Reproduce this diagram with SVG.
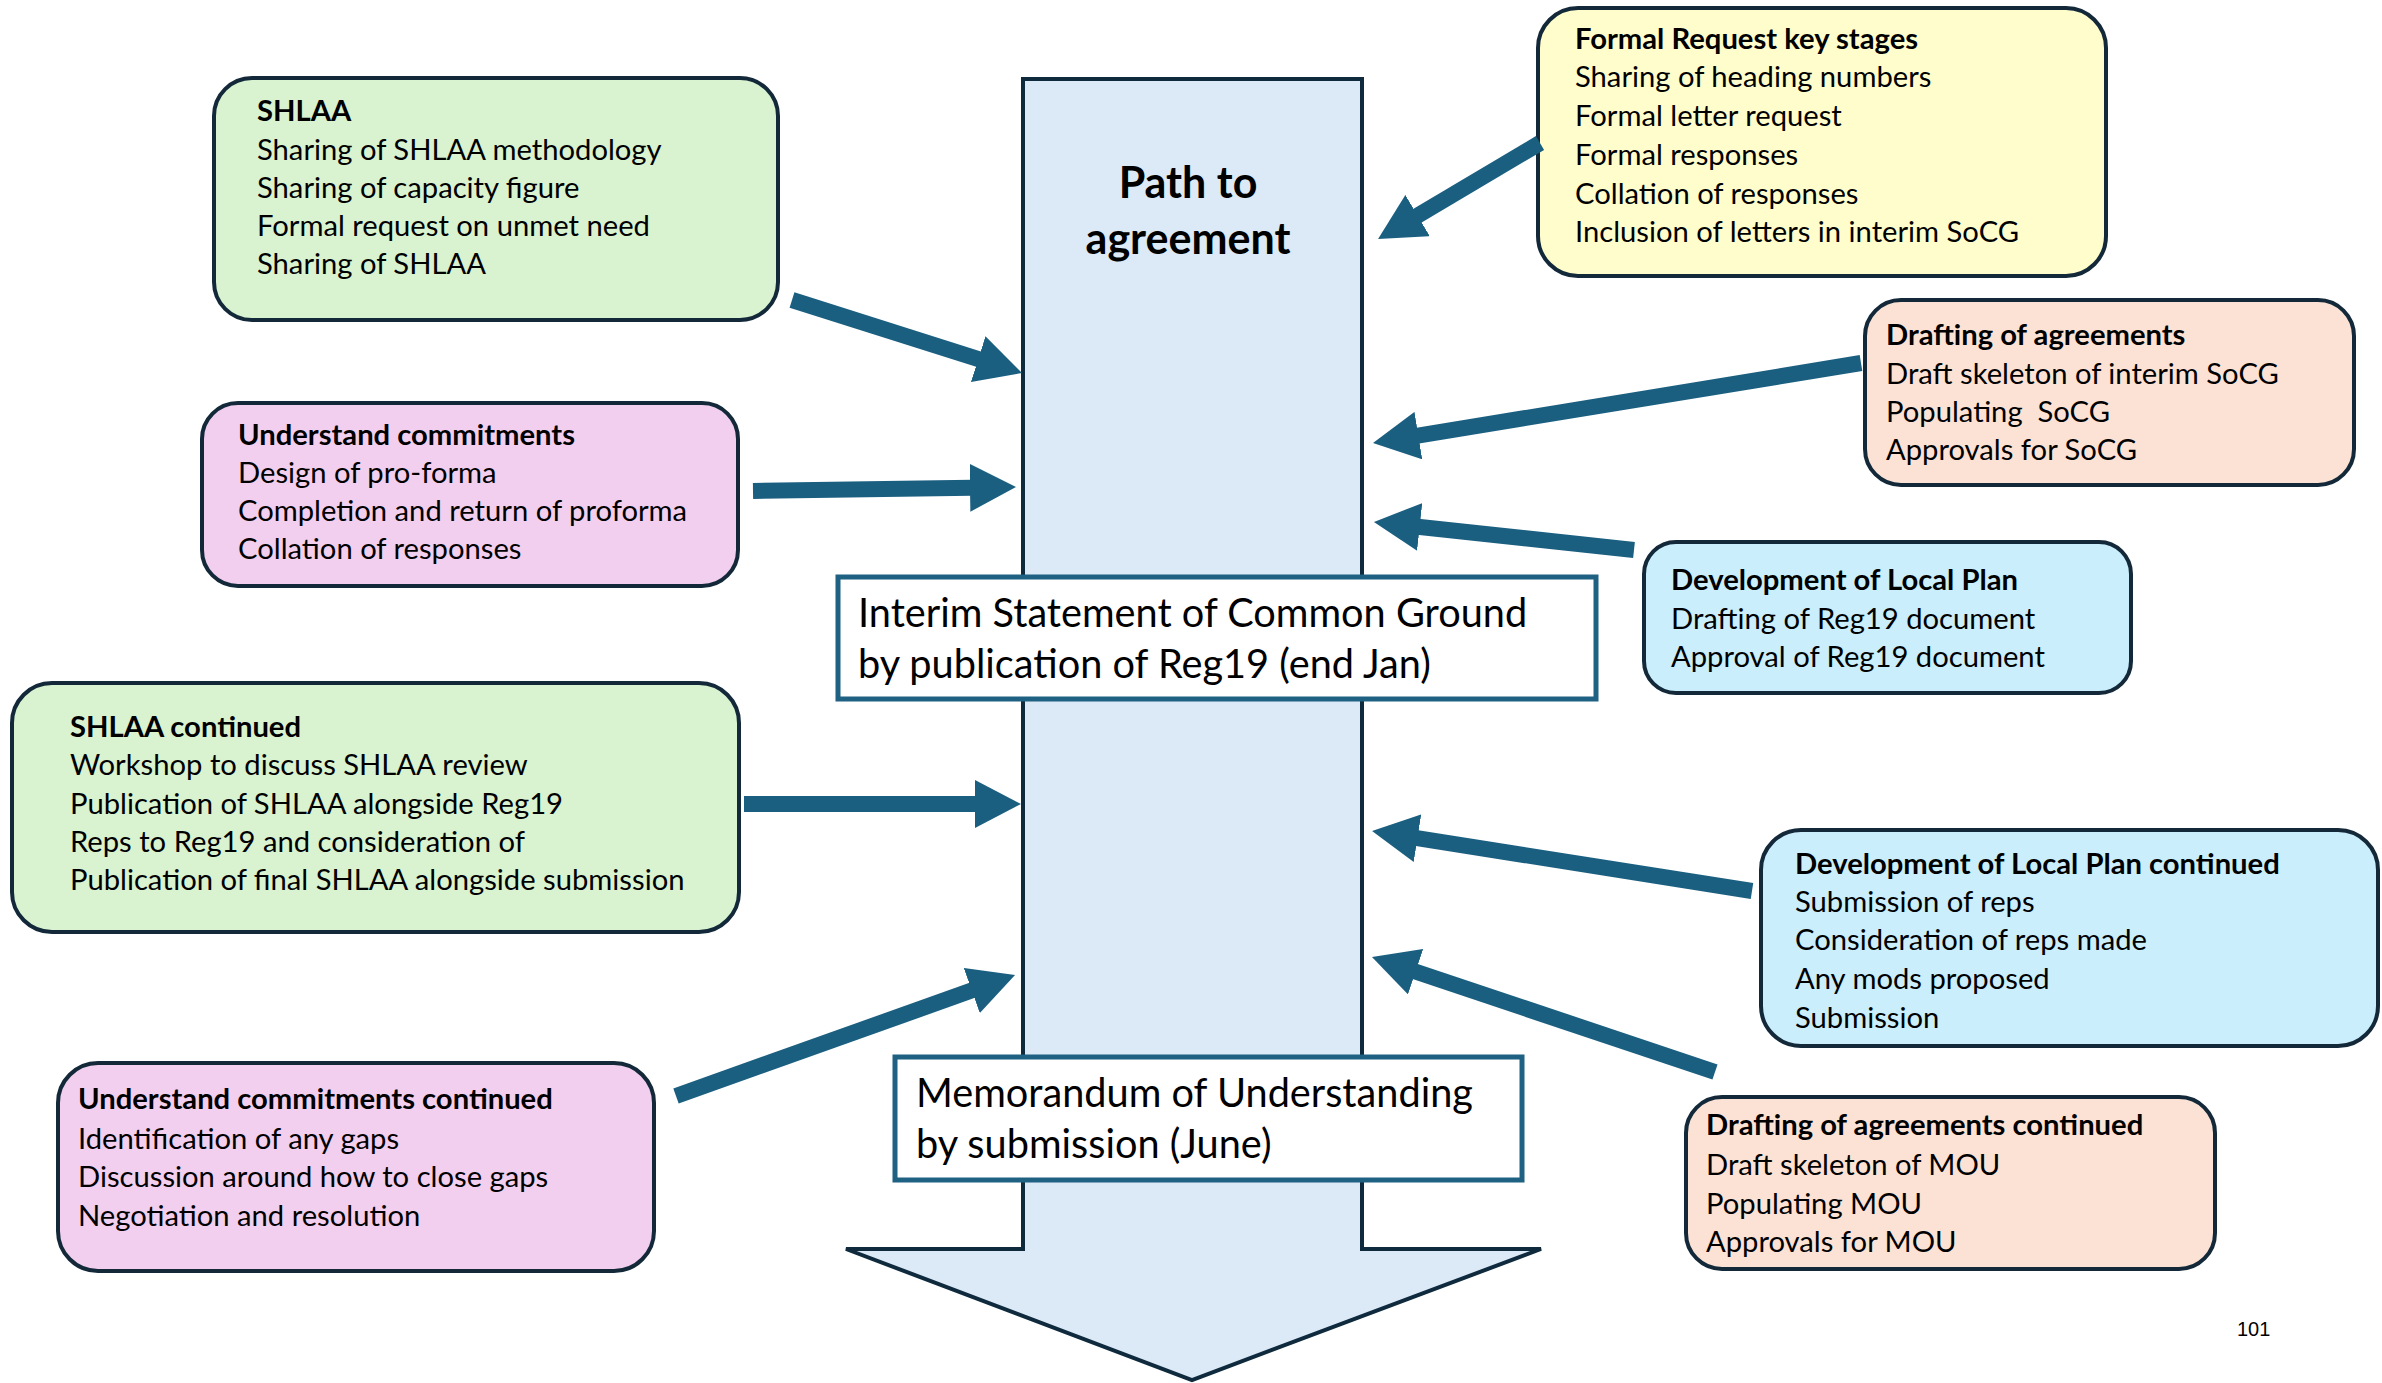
<svg xmlns="http://www.w3.org/2000/svg" width="2382" height="1383" viewBox="0 0 2382 1383">
<style>
.box{stroke:#13293a;stroke-width:4}
.green{fill:#d9f2d0}
.yellow{fill:#fffdcc}
.peach{fill:#fbe2d5}
.pink{fill:#f2cfee}
.blue{fill:#caeefb}
.milestone{fill:#ffffff;stroke:#1f6182;stroke-width:5}
.t{font-family:Lato,"Carlito","Liberation Sans",sans-serif;font-size:29.2px;fill:#000}
.h{font-weight:bold}
.big{font-family:Lato,"Carlito","Liberation Sans",sans-serif;font-size:39.7px;fill:#000}
.title{font-family:Lato,"Carlito","Liberation Sans",sans-serif;font-size:43px;font-weight:bold;fill:#000;text-anchor:middle}
.conn{stroke:#1b5f80;stroke-width:16;fill:none;marker-end:url(#head)}
</style>
<defs>
<marker id="head" markerUnits="userSpaceOnUse" markerWidth="48" markerHeight="48" viewBox="0 -24 48 48" refX="2" refY="0" orient="auto">
<path d="M0,-24 L46,0 L0,24 Z" fill="#1b5f80"/>
</marker>
</defs>
<rect width="2382" height="1383" fill="#ffffff"/>

<g id="main-arrow">
<path d="M1023,79 L1362,79 L1362,1249 L1541,1249 L1192,1380 L846,1249 L1023,1249 Z" fill="#dce9f6" stroke="#0e2a3c" stroke-width="4"/>
<text class="title" x="1188" y="198">Path to</text>
<text class="title" x="1188" y="254">agreement</text>
</g>

<g id="interim">
<rect class="milestone" x="838" y="577" width="758" height="122"/>
<text class="big" x="858" y="627">Interim Statement of Common Ground</text>
<text class="big" x="858" y="678">by publication of Reg19 (end Jan)</text>
</g>

<g id="memo">
<rect class="milestone" x="895" y="1057" width="627" height="123"/>
<text class="big" x="916" y="1107">Memorandum of Understanding</text>
<text class="big" x="916" y="1158">by submission (June)</text>
</g>

<g id="shlaa">
<rect class="box green" x="214" y="78" width="564" height="242" rx="38"/>
<text class="t h" x="257" y="121">SHLAA</text>
<text class="t" x="257" y="160">Sharing of SHLAA methodology</text>
<text class="t" x="257" y="198">Sharing of capacity figure</text>
<text class="t" x="257" y="236">Formal request on unmet need</text>
<text class="t" x="257" y="274">Sharing of SHLAA</text>
</g>

<g id="formal-request">
<rect class="box yellow" x="1538" y="8" width="568" height="268" rx="40"/>
<text class="t h" x="1575" y="49">Formal Request key stages</text>
<text class="t" x="1575" y="87">Sharing of heading numbers</text>
<text class="t" x="1575" y="126">Formal letter request</text>
<text class="t" x="1575" y="165">Formal responses</text>
<text class="t" x="1575" y="204">Collation of responses</text>
<text class="t" x="1575" y="242">Inclusion of letters in interim SoCG</text>
</g>

<g id="understand">
<rect class="box pink" x="202" y="403" width="536" height="183" rx="36"/>
<text class="t h" x="238" y="445">Understand commitments</text>
<text class="t" x="238" y="483">Design of pro-forma</text>
<text class="t" x="238" y="521">Completion and return of proforma</text>
<text class="t" x="238" y="559">Collation of responses</text>
</g>

<g id="drafting">
<rect class="box peach" x="1865" y="300" width="489" height="185" rx="36"/>
<text class="t h" x="1886" y="345">Drafting of agreements</text>
<text class="t" x="1886" y="384">Draft skeleton of interim SoCG</text>
<text class="t" x="1886" y="422" xml:space="preserve" style="white-space:pre">Populating  SoCG</text>
<text class="t" x="1886" y="460">Approvals for SoCG</text>
</g>

<g id="local-plan">
<rect class="box blue" x="1644" y="542" width="487" height="151" rx="32"/>
<text class="t h" x="1671" y="590">Development of Local Plan</text>
<text class="t" x="1671" y="629">Drafting of Reg19 document</text>
<text class="t" x="1671" y="667">Approval of Reg19 document</text>
</g>

<g id="shlaa-continued">
<rect class="box green" x="12" y="683" width="727" height="249" rx="40"/>
<text class="t h" x="70" y="737">SHLAA continued</text>
<text class="t" x="70" y="775">Workshop to discuss SHLAA review</text>
<text class="t" x="70" y="814">Publication of SHLAA alongside Reg19</text>
<text class="t" x="70" y="852">Reps to Reg19 and consideration of</text>
<text class="t" x="70" y="890">Publication of final SHLAA alongside submission</text>
</g>

<g id="local-plan-continued">
<rect class="box blue" x="1761" y="830" width="617" height="216" rx="40"/>
<text class="t h" x="1795" y="874">Development of Local Plan continued</text>
<text class="t" x="1795" y="912">Submission of reps</text>
<text class="t" x="1795" y="950">Consideration of reps made</text>
<text class="t" x="1795" y="989">Any mods proposed</text>
<text class="t" x="1795" y="1028">Submission</text>
</g>

<g id="understand-continued">
<rect class="box pink" x="58" y="1063" width="596" height="208" rx="40"/>
<text class="t h" x="78" y="1109">Understand commitments continued</text>
<text class="t" x="78" y="1149">Identification of any gaps</text>
<text class="t" x="78" y="1187">Discussion around how to close gaps</text>
<text class="t" x="78" y="1226">Negotiation and resolution</text>
</g>

<g id="drafting-continued">
<rect class="box peach" x="1686" y="1097" width="529" height="172" rx="36"/>
<text class="t h" x="1706" y="1135">Drafting of agreements continued</text>
<text class="t" x="1706" y="1175">Draft skeleton of MOU</text>
<text class="t" x="1706" y="1214">Populating MOU</text>
<text class="t" x="1706" y="1252">Approvals for MOU</text>
</g>

<g id="connectors">
<line class="conn" x1="792" y1="300" x2="980.1" y2="359.7"/>
<line class="conn" x1="753" y1="491" x2="972" y2="487.7"/>
<line class="conn" x1="1540" y1="143" x2="1415.9" y2="216.6"/>
<line class="conn" x1="1861" y1="363" x2="1416.4" y2="435.9"/>
<line class="conn" x1="1634" y1="550" x2="1417.7" y2="526.7"/>
<line class="conn" x1="744" y1="804" x2="977" y2="804"/>
<line class="conn" x1="1752" y1="891" x2="1415.5" y2="837.9"/>
<line class="conn" x1="1715" y1="1072" x2="1413.7" y2="971"/>
<line class="conn" x1="676" y1="1096" x2="973.6" y2="989.8"/>
</g>

<text x="2237" y="1336" font-family="Liberation Sans, Arial, sans-serif" font-size="20" fill="#000">101</text>
</svg>
